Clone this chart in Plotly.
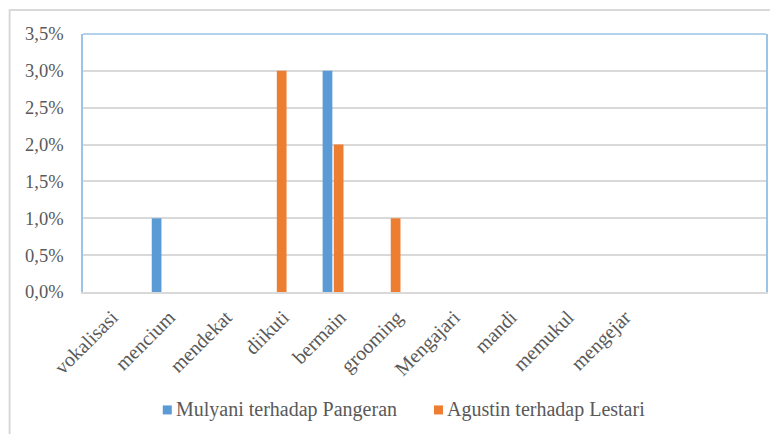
import plotly.graph_objects as go

categories = ["vokalisasi", "mencium", "mendekat", "diikuti", "bermain",
              "grooming", "Mengajari", "mandi", "memukul", "mengejar"]
mulyani = [0, 0.01, 0, 0, 0.03, 0, 0, 0, 0, 0]
agustin = [0, 0, 0, 0.03, 0.02, 0.01, 0, 0, 0, 0]
series_names = ["Mulyani terhadap Pangeran", "Agustin terhadap Lestari"]
series_colors = ["#5b9bd5", "#ed7d31"]
y_ticks = [0, 0.005, 0.01, 0.015, 0.02, 0.025, 0.03, 0.035]

xpos = list(range(len(categories)))
FONT = "Liberation Serif, serif"
TXT = "#595959"

fig = go.Figure()
for name, vals, col in zip(series_names, [mulyani, agustin], series_colors):
    fig.add_trace(go.Bar(x=xpos, y=vals, name=name,
                         marker=dict(color=col, line=dict(width=0))))

# page has an 8px body margin; figure is placed at (8, 8)
OFF = 8
FW, FH = 778 - OFF, 434 - OFF
L = 83.3 - OFF
T = 34 - OFF
R = FW - (765.7 - OFF)
B = FH - (291.7 - OFF)
W = FW - L - R
H = FH - T - B

def px(xp):  # page x -> paper
    return (xp - OFF - L) / W

def py(yp):  # page y -> paper
    return (FH - B - (yp - OFF)) / H

# custom legend (square + text)
legend_sq = [(163, 172), (434, 443)]
legend_y = (405, 414)
shapes = [
    dict(type="line", xref="paper", yref="paper", x0=0, x1=1, y0=1, y1=1,
         line=dict(color="#9dc3e6", width=1.5), layer="above"),
    dict(type="rect", xref="paper", yref="paper",
         x0=px(10), x1=px(800), y0=py(460), y1=py(10),
         line=dict(color="#d9d9d9", width=2), fillcolor="rgba(0,0,0,0)", layer="below"),
]
annotations = []
for (x0, x1), name, col in zip(legend_sq, series_names, series_colors):
    shapes.append(dict(type="rect", xref="paper", yref="paper",
                       x0=px(x0), x1=px(x1), y0=py(legend_y[1]), y1=py(legend_y[0]),
                       line=dict(width=0), fillcolor=col))
    annotations.append(dict(xref="paper", yref="paper", x=px(x1 + 2), y=py(409.5),
                            xanchor="left", yanchor="middle", showarrow=False,
                            text=name, font=dict(family=FONT, size=20, color=TXT)))

fig.update_layout(
    width=FW, height=FH,
    margin=dict(l=L, r=R, t=T, b=B, pad=0, autoexpand=False),
    paper_bgcolor="white", plot_bgcolor="white",
    separators=",.",
    barmode="group", bargap=0.608, bargroupgap=0.13,
    font=dict(family=FONT, color=TXT, size=18),
    showlegend=False,
    xaxis=dict(range=[-0.39, 11.6], tickmode="array", tickvals=xpos, ticktext=categories,
               tickangle=-45, showgrid=False, zeroline=False, automargin=False,
               showline=True, linecolor="#d9d9d9", linewidth=1.5,
               ticks="", ticklabelstandoff=4, ticklabelshift=7,
               tickfont=dict(family=FONT, size=20, color=TXT)),
    yaxis=dict(range=[0, 0.035], tickmode="array", tickvals=y_ticks, tickformat=".1%",
               showgrid=True, gridcolor="#d9d9d9", gridwidth=1.5, zeroline=False,
               showline=True, linecolor="#9dc3e6", linewidth=1.5, mirror=True,
               ticks="", ticklabelstandoff=14, automargin=False,
               tickfont=dict(family=FONT, size=18.5, color=TXT)),
    shapes=shapes,
    annotations=annotations,
)

fig.write_html("out.html")
